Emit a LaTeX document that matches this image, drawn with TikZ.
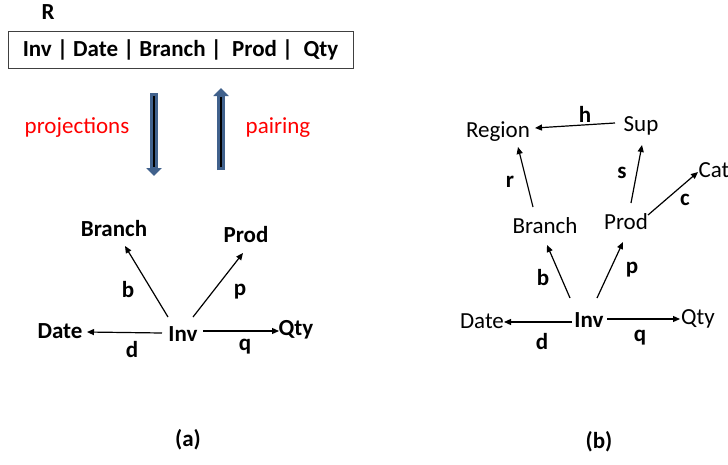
\documentclass[tikz,border=0pt]{standalone}
\usepackage{fontspec}
\setmainfont{Carlito}
\usetikzlibrary{arrows.meta,calc}
\definecolor{blockblue}{RGB}{64,97,140}
\begin{document}
\begin{tikzpicture}[x=1pt,y=-1pt,
  lab/.style={inner sep=0pt,text height=15pt,text depth=0pt,font=\fontsize{23}{27}\selectfont},
  blab/.style={lab,font=\fontsize{23}{27}\selectfont\bfseries},
  conn/.style={line width=1.2pt,-{Triangle[length=7pt,width=6pt]}},
  blockarrow/.style={line width=8pt,blockblue,-{Triangle[length=8pt,width=15pt]}}]
\useasboundingbox (0,0) rectangle (728,464);
% ---- top: relation R
\node[blab] (R) at (48,12) {R};
\node[draw=black!75,line width=1pt,minimum width=345pt,minimum height=37pt,inner sep=0pt,
      font=\fontsize{23}{27}\selectfont\bfseries] (rel) at (180.5,49.5)
      {Inv | Date | Branch |\ \ Prod |\ \ Qty};
\node[lab,red] (proj) at (77,126) {projections};
\node[lab,red] (pair) at (278,126) {pairing};
% block arrows
\coordinate (dtop) at (154,93);
\coordinate (dtip) at (154,176);
\coordinate (utop) at (221,88);
\coordinate (ubot) at (221,170);
\draw[blockarrow] (dtop) -- (dtip);
\draw[line width=2pt,black] ($(dtop)+(0,3)$) -- ($(dtip)+(0,-9)$);
\draw[blockarrow] (ubot) -- (utop);
\draw[line width=2pt,black] ($(ubot)+(0,-3)$) -- ($(utop)+(0,9)$);
% ---- (a)
\node[blab] (aBranch) at (114,229) {Branch};
\node[blab] (aProd) at (246,235) {Prod};
\node[blab] (aInv) at (183,334) {Inv};
\node[blab] (aDate) at (60,331) {Date};
\node[blab] (aQty) at (296,328) {Qty};
\draw[conn] ($(aInv)+(-15,-17)$) -- ($(aBranch)+(11,17)$);
\draw[conn] ($(aInv)+(10,-17)$) -- ($(aProd)+(-3,18)$);
\draw[conn] ($(aInv)+(-21,-1)$) -- ($(aDate)+(27,1)$);
\draw[conn] ($(aInv)+(20,-3)$) -- ($(aQty)+(-17,3)$);
\node[blab] (ab) at (128,290) {b};
\node[blab] (ap) at (240,288) {p};
\node[blab] (ad) at (132,350) {d};
\node[blab] (aq) at (245,343) {q};
\node[blab] (capa) at (188,439) {(a)};
% ---- (b)
\node[lab] (bRegion) at (498,130) {Region};
\node[lab] (bSup) at (641,124) {Sup};
\node[lab] (bBranch) at (545,226) {Branch};
\node[lab] (bProd) at (626,222) {Prod};
\node[lab] (bCat) at (714,170) {Cat};
\node[blab] (bInv) at (589,320) {Inv};
\node[lab] (bDate) at (482,321) {Date};
\node[lab] (bQty) at (698,317) {Qty};
\draw[conn] ($(bSup)+(-26,-1)$) -- ($(bRegion)+(37,-2)$);
\draw[conn] ($(bBranch)+(-12,-19)$) -- ($(bRegion)+(20,17)$);
\draw[conn] ($(bProd)+(5,-19)$) -- ($(bSup)+(1,21)$);
\draw[conn] ($(bProd)+(22,-7)$) -- ($(bCat)+(-16,2)$);
\draw[conn] ($(bInv)+(-19,-22)$) -- ($(bBranch)+(2,19)$);
\draw[conn] ($(bInv)+(8,-22)$) -- ($(bProd)+(-3,20)$);
\draw[conn] ($(bInv)+(-17,2)$) -- ($(bDate)+(22,1)$);
\draw[conn] ($(bInv)+(18,-1)$) -- ($(bQty)+(-18,2)$);
\node[blab] (bh) at (585,115) {h};
\node[blab] (br) at (510,180) {r};
\node[blab] (bs) at (622,171) {s};
\node[blab] (bc) at (685,198) {c};
\node[blab] (bb) at (543,278) {b};
\node[blab] (bp) at (632,266) {p};
\node[blab] (bd) at (542,342) {d};
\node[blab] (bq) at (640,334) {q};
\node[blab] (capb) at (599,441) {(b)};
\end{tikzpicture}
\end{document}
